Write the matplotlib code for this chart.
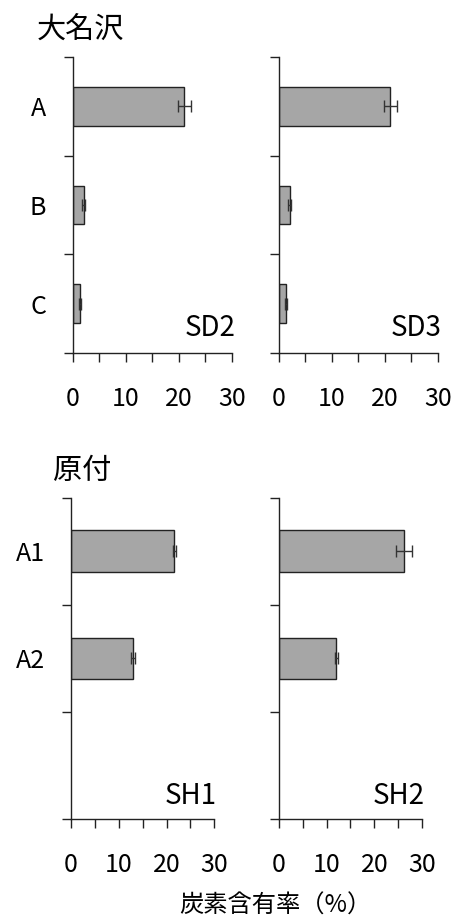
import matplotlib
matplotlib.use("Agg")
import matplotlib.pyplot as plt

plt.rcParams['font.family'] = ['Noto Sans CJK JP', 'DejaVu Sans']

# 大名沢 (SD2, SD3)
sd_layers = ['A', 'B', 'C']
sd2_mean = [21.0, 2.1, 1.4]
sd2_err = [1.2, 0.3, 0.15]
sd3_mean = [21.0, 2.1, 1.4]
sd3_err = [1.2, 0.3, 0.15]

# 原付 (SH1, SH2) - third row left empty
sh_layers = ['A1', 'A2', '']
sh1_mean = [21.6, 13.0]
sh1_err = [0.3, 0.4]
sh2_mean = [26.2, 12.0]
sh2_err = [1.7, 0.3]

x_ticks = [0, 10, 20, 30]
x_label = '炭素含有率（%）'

fig = plt.figure(figsize=(4.55, 9.23), dpi=100)


def panel(rect, labels, mean, err, name, name_y, show_labels):
    ax = fig.add_axes(rect)
    n = len(labels)
    pos = [i + 0.5 for i in range(len(mean))]
    ax.barh(pos, mean, height=0.39, color='#a6a6a6', edgecolor='#222222',
            linewidth=1.0, zorder=2)
    ax.errorbar(mean, pos, xerr=err, fmt='none', ecolor='#333333',
                elinewidth=1.0, capsize=4, capthick=1.0, zorder=3)
    ax.set_xlim(0, 30)
    ax.set_ylim(n, 0)
    ax.spines['top'].set_visible(False)
    ax.spines['right'].set_visible(False)
    for s in ('left', 'bottom'):
        ax.spines[s].set_linewidth(1.0)
        ax.spines[s].set_color('#222222')
    # x ticks every 5, labels every 10
    ax.set_xticks(range(0, 31, 5))
    ax.set_xticklabels([str(v) if v in x_ticks else '' for v in range(0, 31, 5)])
    ax.tick_params(axis='x', direction='out', length=6.5, width=1.0,
                   colors='#222222', labelcolor='black', labelsize=18, pad=17)
    # y ticks at band edges, names centred in bands
    ax.set_yticks(range(n + 1))
    ax.set_yticklabels([])
    ax.tick_params(axis='y', which='major', direction='out', length=6.5,
                   width=1.0, colors='#222222')
    ax.set_yticks([i + 0.5 for i in range(n)], minor=True)
    ax.set_yticklabels(labels if show_labels else [''] * n, minor=True)
    ax.tick_params(axis='y', which='minor', length=0, labelsize=18, pad=19)
    ax.text(1.02, name_y, name, transform=ax.transAxes, ha='right', va='center',
            fontsize=20)
    return ax


panel([0.1598, 0.6176, 0.3502, 0.3206], sd_layers, sd2_mean, sd2_err, 'SD2', 0.085, True)
panel([0.6125, 0.6176, 0.3501, 0.3206], sd_layers, sd3_mean, sd3_err, 'SD3', 0.085, False)
panel([0.1560, 0.1124, 0.3150, 0.3484], sh_layers, sh1_mean, sh1_err, 'SH1', 0.072, True)
panel([0.6125, 0.1124, 0.3156, 0.3484], sh_layers, sh2_mean, sh2_err, 'SH2', 0.072, False)

fig.text(0.081, 1 - 31 / 923, '大名沢', ha='left', va='center', fontsize=21)
fig.text(0.116, 1 - 471 / 923, '原付', ha='left', va='center', fontsize=21)
fig.text(275 / 455, 1 - 906 / 923, x_label, ha='center', va='center', fontsize=17.5)

fig.savefig('out.png', dpi=100)
